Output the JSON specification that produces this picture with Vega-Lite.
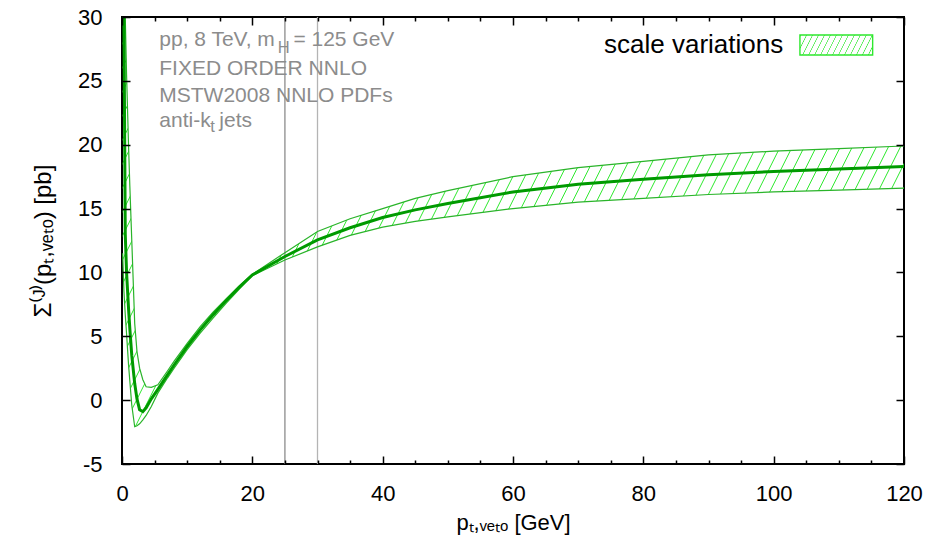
{
"$schema": "https://vega.github.io/schema/vega-lite/v6.json",
"width": 782,
"height": 447,
"autosize": {"type": "none"},
"padding": {"left": 122, "top": 17, "right": 27, "bottom": 82},
"background": "white",
"config": {
 "view": {"stroke": "black", "strokeWidth": 2},
 "font": "Liberation Sans",
 "axis": {"grid": false, "domain": false, "labelFlush": false, "labelFont": "Liberation Sans", "titleFont": "Liberation Sans", "labelColor": "black", "titleColor": "black", "tickColor": "black", "tickWidth": 1.5, "titleFontWeight": "normal"}
},
"resolve": {"axis": {"x": "independent", "y": "independent"}},
"datasets": {
 "band": [
  {"x": 0.1, "lo": 11.5, "hi": 30, "c": 30},
  {"x": 0.3, "lo": 8.5, "hi": 30, "c": 30},
  {"x": 0.5, "lo": 6.7, "hi": 30, "c": 13},
  {"x": 0.7, "lo": 5.2, "hi": 25.5, "c": 10},
  {"x": 1.0, "lo": 2.8, "hi": 20, "c": 7.2},
  {"x": 1.2, "lo": 1.5, "hi": 16.8, "c": 5.6},
  {"x": 1.5, "lo": -0.4, "hi": 12.5, "c": 3.5},
  {"x": 1.95, "lo": -2.08, "hi": 6.0, "c": 1.3},
  {"x": 2.3, "lo": -2.0, "hi": 3.8, "c": 0.1},
  {"x": 2.7, "lo": -1.85, "hi": 2.5, "c": -0.75},
  {"x": 3.2, "lo": -1.55, "hi": 1.6, "c": -0.9},
  {"x": 3.7, "lo": -1.2, "hi": 1.05, "c": -0.6},
  {"x": 4.5, "lo": -0.5, "hi": 1.0, "c": 0.1},
  {"x": 5.5, "lo": 0.55, "hi": 1.2, "c": 0.85},
  {"x": 7, "lo": 1.75, "hi": 2.3, "c": 2.0},
  {"x": 8, "lo": 2.5, "hi": 3.05, "c": 2.75},
  {"x": 10, "lo": 3.95, "hi": 4.45, "c": 4.2},
  {"x": 12, "lo": 5.25, "hi": 5.75, "c": 5.5},
  {"x": 14, "lo": 6.45, "hi": 6.9, "c": 6.7},
  {"x": 16, "lo": 7.6, "hi": 7.95, "c": 7.8},
  {"x": 18, "lo": 8.7, "hi": 8.95, "c": 8.85},
  {"x": 20, "lo": 9.75, "hi": 9.85, "c": 9.8},
  {"x": 25, "lo": 10.97, "hi": 11.55, "c": 11.25},
  {"x": 30, "lo": 12.0, "hi": 13.2, "c": 12.55},
  {"x": 35, "lo": 12.9, "hi": 14.2, "c": 13.5},
  {"x": 40, "lo": 13.55, "hi": 15.0, "c": 14.3},
  {"x": 45, "lo": 14.0, "hi": 15.8, "c": 14.9},
  {"x": 50, "lo": 14.35, "hi": 16.4, "c": 15.4},
  {"x": 60, "lo": 15.0, "hi": 17.5, "c": 16.3},
  {"x": 70, "lo": 15.5, "hi": 18.2, "c": 16.9},
  {"x": 80, "lo": 15.8, "hi": 18.7, "c": 17.3},
  {"x": 90, "lo": 16.1, "hi": 19.2, "c": 17.65},
  {"x": 100, "lo": 16.3, "hi": 19.5, "c": 17.9},
  {"x": 110, "lo": 16.45, "hi": 19.7, "c": 18.1},
  {"x": 120, "lo": 16.6, "hi": 19.9, "c": 18.3}
 ],
 "vlines": [{"x": 25, "k": "a"}, {"x": 30, "k": "b"}],
 "notes": [
  {"x": 5.72, "y": 27.73, "t": "pp, 8 TeV, m"},
  {"x": 26.3, "y": 27.73, "t": "= 125 GeV"},
  {"x": 5.72, "y": 25.46, "t": "FIXED ORDER NNLO"},
  {"x": 5.72, "y": 23.37, "t": "MSTW2008 NNLO PDFs"},
  {"x": 5.72, "y": 21.41, "t": "anti-k"},
  {"x": 14.93, "y": 21.41, "t": "jets"}
 ],
 "subs": [
  {"x": 23.9, "y": 27.18, "t": "H"},
  {"x": 13.55, "y": 21.0, "t": "t"}
 ],
 "legtext": [{"x": 101.47, "y": 27.16, "t": "scale variations"}],
 "legbox": [{"x": 104.03, "x2": 115.19, "y": 27.03, "y2": 28.59}]
},
"layer": [
 {
  "data": {"name": "vlines"},
  "mark": {"type": "rule", "strokeWidth": 1.3},
  "encoding": {
   "x": {"field": "x", "type": "quantitative", "scale": {"domain": [0, 120], "nice": false, "zero": false},
    "axis": {"orient": "top", "values": [5, 10, 15, 25, 30, 35, 45, 50, 55, 65, 70, 75, 85, 90, 95, 105, 110, 115], "labels": false, "tickSize": 4, "offset": -4, "title": null, "zindex": 1}},
   "color": {"field": "k", "type": "nominal", "scale": {"range": ["#8c8c8c", "#b4b4b4"]}, "legend": null}
  }
 },
 {
  "data": {"name": "band"},
  "mark": {"type": "area", "clip": true, "fill": {"gradient": "linear", "x1": 0, "y1": 0, "x2": 1.2, "y2": 0.3146, "stops": [
{"offset":0,"color":"rgba(46,232,46,0)"},{"offset":0.001,"color":"#2ee82e"},{"offset":0.002,"color":"rgba(46,232,46,0)"},
{"offset":0.012,"color":"rgba(46,232,46,0)"},{"offset":0.013,"color":"#2ee82e"},{"offset":0.014,"color":"rgba(46,232,46,0)"},
{"offset":0.024,"color":"rgba(46,232,46,0)"},{"offset":0.025,"color":"#2ee82e"},{"offset":0.026,"color":"rgba(46,232,46,0)"},
{"offset":0.036,"color":"rgba(46,232,46,0)"},{"offset":0.037,"color":"#2ee82e"},{"offset":0.038,"color":"rgba(46,232,46,0)"},
{"offset":0.048,"color":"rgba(46,232,46,0)"},{"offset":0.049,"color":"#2ee82e"},{"offset":0.05,"color":"rgba(46,232,46,0)"},
{"offset":0.06,"color":"rgba(46,232,46,0)"},{"offset":0.061,"color":"#2ee82e"},{"offset":0.062,"color":"rgba(46,232,46,0)"},
{"offset":0.072,"color":"rgba(46,232,46,0)"},{"offset":0.073,"color":"#2ee82e"},{"offset":0.074,"color":"rgba(46,232,46,0)"},
{"offset":0.084,"color":"rgba(46,232,46,0)"},{"offset":0.085,"color":"#2ee82e"},{"offset":0.086,"color":"rgba(46,232,46,0)"},
{"offset":0.096,"color":"rgba(46,232,46,0)"},{"offset":0.097,"color":"#2ee82e"},{"offset":0.098,"color":"rgba(46,232,46,0)"},
{"offset":0.108,"color":"rgba(46,232,46,0)"},{"offset":0.109,"color":"#2ee82e"},{"offset":0.11,"color":"rgba(46,232,46,0)"},
{"offset":0.12,"color":"rgba(46,232,46,0)"},{"offset":0.121,"color":"#2ee82e"},{"offset":0.122,"color":"rgba(46,232,46,0)"},
{"offset":0.132,"color":"rgba(46,232,46,0)"},{"offset":0.133,"color":"#2ee82e"},{"offset":0.134,"color":"rgba(46,232,46,0)"},
{"offset":0.144,"color":"rgba(46,232,46,0)"},{"offset":0.145,"color":"#2ee82e"},{"offset":0.146,"color":"rgba(46,232,46,0)"},
{"offset":0.156,"color":"rgba(46,232,46,0)"},{"offset":0.157,"color":"#2ee82e"},{"offset":0.158,"color":"rgba(46,232,46,0)"},
{"offset":0.168,"color":"rgba(46,232,46,0)"},{"offset":0.169,"color":"#2ee82e"},{"offset":0.17,"color":"rgba(46,232,46,0)"},
{"offset":0.18,"color":"rgba(46,232,46,0)"},{"offset":0.181,"color":"#2ee82e"},{"offset":0.182,"color":"rgba(46,232,46,0)"},
{"offset":0.192,"color":"rgba(46,232,46,0)"},{"offset":0.193,"color":"#2ee82e"},{"offset":0.194,"color":"rgba(46,232,46,0)"},
{"offset":0.204,"color":"rgba(46,232,46,0)"},{"offset":0.205,"color":"#2ee82e"},{"offset":0.206,"color":"rgba(46,232,46,0)"},
{"offset":0.216,"color":"rgba(46,232,46,0)"},{"offset":0.217,"color":"#2ee82e"},{"offset":0.218,"color":"rgba(46,232,46,0)"},
{"offset":0.228,"color":"rgba(46,232,46,0)"},{"offset":0.229,"color":"#2ee82e"},{"offset":0.23,"color":"rgba(46,232,46,0)"},
{"offset":0.24,"color":"rgba(46,232,46,0)"},{"offset":0.241,"color":"#2ee82e"},{"offset":0.242,"color":"rgba(46,232,46,0)"},
{"offset":0.252,"color":"rgba(46,232,46,0)"},{"offset":0.253,"color":"#2ee82e"},{"offset":0.254,"color":"rgba(46,232,46,0)"},
{"offset":0.264,"color":"rgba(46,232,46,0)"},{"offset":0.265,"color":"#2ee82e"},{"offset":0.266,"color":"rgba(46,232,46,0)"},
{"offset":0.276,"color":"rgba(46,232,46,0)"},{"offset":0.277,"color":"#2ee82e"},{"offset":0.278,"color":"rgba(46,232,46,0)"},
{"offset":0.288,"color":"rgba(46,232,46,0)"},{"offset":0.289,"color":"#2ee82e"},{"offset":0.29,"color":"rgba(46,232,46,0)"},
{"offset":0.3,"color":"rgba(46,232,46,0)"},{"offset":0.301,"color":"#2ee82e"},{"offset":0.302,"color":"rgba(46,232,46,0)"},
{"offset":0.312,"color":"rgba(46,232,46,0)"},{"offset":0.313,"color":"#2ee82e"},{"offset":0.314,"color":"rgba(46,232,46,0)"},
{"offset":0.324,"color":"rgba(46,232,46,0)"},{"offset":0.325,"color":"#2ee82e"},{"offset":0.326,"color":"rgba(46,232,46,0)"},
{"offset":0.336,"color":"rgba(46,232,46,0)"},{"offset":0.337,"color":"#2ee82e"},{"offset":0.338,"color":"rgba(46,232,46,0)"},
{"offset":0.348,"color":"rgba(46,232,46,0)"},{"offset":0.349,"color":"#2ee82e"},{"offset":0.35,"color":"rgba(46,232,46,0)"},
{"offset":0.36,"color":"rgba(46,232,46,0)"},{"offset":0.361,"color":"#2ee82e"},{"offset":0.362,"color":"rgba(46,232,46,0)"},
{"offset":0.372,"color":"rgba(46,232,46,0)"},{"offset":0.373,"color":"#2ee82e"},{"offset":0.374,"color":"rgba(46,232,46,0)"},
{"offset":0.384,"color":"rgba(46,232,46,0)"},{"offset":0.385,"color":"#2ee82e"},{"offset":0.386,"color":"rgba(46,232,46,0)"},
{"offset":0.396,"color":"rgba(46,232,46,0)"},{"offset":0.397,"color":"#2ee82e"},{"offset":0.398,"color":"rgba(46,232,46,0)"},
{"offset":0.408,"color":"rgba(46,232,46,0)"},{"offset":0.409,"color":"#2ee82e"},{"offset":0.41,"color":"rgba(46,232,46,0)"},
{"offset":0.42,"color":"rgba(46,232,46,0)"},{"offset":0.421,"color":"#2ee82e"},{"offset":0.422,"color":"rgba(46,232,46,0)"},
{"offset":0.432,"color":"rgba(46,232,46,0)"},{"offset":0.433,"color":"#2ee82e"},{"offset":0.434,"color":"rgba(46,232,46,0)"},
{"offset":0.444,"color":"rgba(46,232,46,0)"},{"offset":0.445,"color":"#2ee82e"},{"offset":0.446,"color":"rgba(46,232,46,0)"},
{"offset":0.456,"color":"rgba(46,232,46,0)"},{"offset":0.457,"color":"#2ee82e"},{"offset":0.458,"color":"rgba(46,232,46,0)"},
{"offset":0.468,"color":"rgba(46,232,46,0)"},{"offset":0.469,"color":"#2ee82e"},{"offset":0.47,"color":"rgba(46,232,46,0)"},
{"offset":0.48,"color":"rgba(46,232,46,0)"},{"offset":0.481,"color":"#2ee82e"},{"offset":0.482,"color":"rgba(46,232,46,0)"},
{"offset":0.492,"color":"rgba(46,232,46,0)"},{"offset":0.493,"color":"#2ee82e"},{"offset":0.494,"color":"rgba(46,232,46,0)"},
{"offset":0.504,"color":"rgba(46,232,46,0)"},{"offset":0.505,"color":"#2ee82e"},{"offset":0.506,"color":"rgba(46,232,46,0)"},
{"offset":0.516,"color":"rgba(46,232,46,0)"},{"offset":0.517,"color":"#2ee82e"},{"offset":0.518,"color":"rgba(46,232,46,0)"},
{"offset":0.528,"color":"rgba(46,232,46,0)"},{"offset":0.529,"color":"#2ee82e"},{"offset":0.53,"color":"rgba(46,232,46,0)"},
{"offset":0.54,"color":"rgba(46,232,46,0)"},{"offset":0.541,"color":"#2ee82e"},{"offset":0.542,"color":"rgba(46,232,46,0)"},
{"offset":0.552,"color":"rgba(46,232,46,0)"},{"offset":0.553,"color":"#2ee82e"},{"offset":0.554,"color":"rgba(46,232,46,0)"},
{"offset":0.564,"color":"rgba(46,232,46,0)"},{"offset":0.565,"color":"#2ee82e"},{"offset":0.566,"color":"rgba(46,232,46,0)"},
{"offset":0.576,"color":"rgba(46,232,46,0)"},{"offset":0.577,"color":"#2ee82e"},{"offset":0.578,"color":"rgba(46,232,46,0)"},
{"offset":0.588,"color":"rgba(46,232,46,0)"},{"offset":0.589,"color":"#2ee82e"},{"offset":0.59,"color":"rgba(46,232,46,0)"},
{"offset":0.6,"color":"rgba(46,232,46,0)"},{"offset":0.601,"color":"#2ee82e"},{"offset":0.602,"color":"rgba(46,232,46,0)"},
{"offset":0.612,"color":"rgba(46,232,46,0)"},{"offset":0.613,"color":"#2ee82e"},{"offset":0.614,"color":"rgba(46,232,46,0)"},
{"offset":0.624,"color":"rgba(46,232,46,0)"},{"offset":0.625,"color":"#2ee82e"},{"offset":0.626,"color":"rgba(46,232,46,0)"},
{"offset":0.636,"color":"rgba(46,232,46,0)"},{"offset":0.637,"color":"#2ee82e"},{"offset":0.638,"color":"rgba(46,232,46,0)"},
{"offset":0.648,"color":"rgba(46,232,46,0)"},{"offset":0.649,"color":"#2ee82e"},{"offset":0.65,"color":"rgba(46,232,46,0)"},
{"offset":0.66,"color":"rgba(46,232,46,0)"},{"offset":0.661,"color":"#2ee82e"},{"offset":0.662,"color":"rgba(46,232,46,0)"},
{"offset":0.672,"color":"rgba(46,232,46,0)"},{"offset":0.673,"color":"#2ee82e"},{"offset":0.674,"color":"rgba(46,232,46,0)"},
{"offset":0.684,"color":"rgba(46,232,46,0)"},{"offset":0.685,"color":"#2ee82e"},{"offset":0.686,"color":"rgba(46,232,46,0)"},
{"offset":0.696,"color":"rgba(46,232,46,0)"},{"offset":0.697,"color":"#2ee82e"},{"offset":0.698,"color":"rgba(46,232,46,0)"},
{"offset":0.708,"color":"rgba(46,232,46,0)"},{"offset":0.709,"color":"#2ee82e"},{"offset":0.71,"color":"rgba(46,232,46,0)"},
{"offset":0.72,"color":"rgba(46,232,46,0)"},{"offset":0.721,"color":"#2ee82e"},{"offset":0.722,"color":"rgba(46,232,46,0)"},
{"offset":0.732,"color":"rgba(46,232,46,0)"},{"offset":0.733,"color":"#2ee82e"},{"offset":0.734,"color":"rgba(46,232,46,0)"},
{"offset":0.744,"color":"rgba(46,232,46,0)"},{"offset":0.745,"color":"#2ee82e"},{"offset":0.746,"color":"rgba(46,232,46,0)"},
{"offset":0.756,"color":"rgba(46,232,46,0)"},{"offset":0.757,"color":"#2ee82e"},{"offset":0.758,"color":"rgba(46,232,46,0)"},
{"offset":0.768,"color":"rgba(46,232,46,0)"},{"offset":0.769,"color":"#2ee82e"},{"offset":0.77,"color":"rgba(46,232,46,0)"},
{"offset":0.78,"color":"rgba(46,232,46,0)"},{"offset":0.781,"color":"#2ee82e"},{"offset":0.782,"color":"rgba(46,232,46,0)"},
{"offset":0.792,"color":"rgba(46,232,46,0)"},{"offset":0.793,"color":"#2ee82e"},{"offset":0.794,"color":"rgba(46,232,46,0)"},
{"offset":0.804,"color":"rgba(46,232,46,0)"},{"offset":0.805,"color":"#2ee82e"},{"offset":0.806,"color":"rgba(46,232,46,0)"},
{"offset":0.816,"color":"rgba(46,232,46,0)"},{"offset":0.817,"color":"#2ee82e"},{"offset":0.818,"color":"rgba(46,232,46,0)"},
{"offset":0.828,"color":"rgba(46,232,46,0)"},{"offset":0.829,"color":"#2ee82e"},{"offset":0.83,"color":"rgba(46,232,46,0)"},
{"offset":0.84,"color":"rgba(46,232,46,0)"},{"offset":0.841,"color":"#2ee82e"},{"offset":0.842,"color":"rgba(46,232,46,0)"},
{"offset":0.852,"color":"rgba(46,232,46,0)"},{"offset":0.853,"color":"#2ee82e"},{"offset":0.854,"color":"rgba(46,232,46,0)"},
{"offset":0.864,"color":"rgba(46,232,46,0)"},{"offset":0.865,"color":"#2ee82e"},{"offset":0.866,"color":"rgba(46,232,46,0)"},
{"offset":0.876,"color":"rgba(46,232,46,0)"},{"offset":0.877,"color":"#2ee82e"},{"offset":0.878,"color":"rgba(46,232,46,0)"},
{"offset":0.888,"color":"rgba(46,232,46,0)"},{"offset":0.889,"color":"#2ee82e"},{"offset":0.89,"color":"rgba(46,232,46,0)"},
{"offset":0.9,"color":"rgba(46,232,46,0)"},{"offset":0.901,"color":"#2ee82e"},{"offset":0.902,"color":"rgba(46,232,46,0)"},
{"offset":0.912,"color":"rgba(46,232,46,0)"},{"offset":0.913,"color":"#2ee82e"},{"offset":0.914,"color":"rgba(46,232,46,0)"},
{"offset":0.924,"color":"rgba(46,232,46,0)"},{"offset":0.925,"color":"#2ee82e"},{"offset":0.926,"color":"rgba(46,232,46,0)"},
{"offset":0.936,"color":"rgba(46,232,46,0)"},{"offset":0.937,"color":"#2ee82e"},{"offset":0.938,"color":"rgba(46,232,46,0)"},
{"offset":0.948,"color":"rgba(46,232,46,0)"},{"offset":0.949,"color":"#2ee82e"},{"offset":0.95,"color":"rgba(46,232,46,0)"},
{"offset":0.96,"color":"rgba(46,232,46,0)"},{"offset":0.961,"color":"#2ee82e"},{"offset":0.962,"color":"rgba(46,232,46,0)"},
{"offset":0.972,"color":"rgba(46,232,46,0)"},{"offset":0.973,"color":"#2ee82e"},{"offset":0.974,"color":"rgba(46,232,46,0)"},
{"offset":0.984,"color":"rgba(46,232,46,0)"},{"offset":0.985,"color":"#2ee82e"},{"offset":0.986,"color":"rgba(46,232,46,0)"},
{"offset":0.996,"color":"rgba(46,232,46,0)"},{"offset":0.997,"color":"#2ee82e"},{"offset":0.998,"color":"rgba(46,232,46,0)"}
  ]}},
  "encoding": {
   "x": {"field": "x", "type": "quantitative", "scale": {"domain": [0, 120], "nice": false, "zero": false},
    "axis": {"orient": "bottom", "values": [0, 20, 40, 60, 80, 100, 120], "ticks": false, "labelFontSize": 22, "labelPadding": 19, "title": "pₜ,ᵥₑₜₒ [GeV]", "titleFontSize": 22, "titlePadding": 8}},
   "y": {"field": "lo", "type": "quantitative", "scale": {"domain": [-5, 30], "nice": false, "zero": false},
    "axis": {"orient": "left", "values": [-5, 0, 5, 10, 15, 20, 25, 30], "ticks": false, "labelFontSize": 22, "labelPadding": 20, "labelExpr": "replace(datum.label, '−', '-')", "title": "Σ⁽ᴶ⁾(pₜ,ᵥₑₜₒ) [pb]", "titleFontSize": 24, "titlePadding": 22}},
   "y2": {"field": "hi"}
  }
 },
 {
  "data": {"name": "band"},
  "mark": {"type": "line", "clip": true, "color": "#2ab42a", "strokeWidth": 1.2},
  "encoding": {
   "x": {"field": "x", "type": "quantitative", "scale": {"domain": [0, 120], "nice": false, "zero": false},
    "axis": {"orient": "bottom", "values": [0, 20, 40, 60, 80, 100, 120], "labels": false, "tickSize": 8, "offset": -8, "title": null, "zindex": 1}},
   "y": {"field": "lo", "type": "quantitative", "scale": {"domain": [-5, 30], "nice": false, "zero": false},
    "axis": {"orient": "left", "values": [-5, 0, 5, 10, 15, 20, 25, 30], "labels": false, "tickSize": 8, "offset": -8, "title": null, "zindex": 1}}
  }
 },
 {
  "data": {"name": "band"},
  "mark": {"type": "line", "clip": true, "color": "#2ab42a", "strokeWidth": 1.2},
  "encoding": {
   "x": {"field": "x", "type": "quantitative", "scale": {"domain": [0, 120], "nice": false, "zero": false},
    "axis": {"orient": "top", "values": [0, 20, 40, 60, 80, 100, 120], "labels": false, "tickSize": 8, "offset": -8, "title": null, "zindex": 1}},
   "y": {"field": "hi", "type": "quantitative", "scale": {"domain": [-5, 30], "nice": false, "zero": false},
    "axis": {"orient": "right", "values": [-5, 0, 5, 10, 15, 20, 25, 30], "labels": false, "tickSize": 8, "offset": -8, "title": null, "zindex": 1}}
  }
 },
 {
  "data": {"name": "band"},
  "mark": {"type": "line", "clip": true, "color": "#009a00", "strokeWidth": 3},
  "encoding": {
   "x": {"field": "x", "type": "quantitative", "scale": {"domain": [0, 120], "nice": false, "zero": false},
    "axis": {"orient": "bottom", "values": [5, 10, 15, 25, 30, 35, 45, 50, 55, 65, 70, 75, 85, 90, 95, 105, 110, 115], "labels": false, "tickSize": 4, "offset": -4, "title": null, "zindex": 1}},
   "y": {"field": "c", "type": "quantitative", "scale": {"domain": [-5, 30], "nice": false, "zero": false}, "axis": null}
  }
 },
 {
  "data": {"name": "notes"},
  "mark": {"type": "text", "align": "left", "baseline": "alphabetic", "fontSize": 21, "color": "#8c8c8c", "font": "Liberation Sans"},
  "encoding": {
   "x": {"field": "x", "type": "quantitative", "axis": null},
   "y": {"field": "y", "type": "quantitative", "axis": null},
   "text": {"field": "t"}
  }
 },
 {
  "data": {"name": "subs"},
  "mark": {"type": "text", "align": "left", "baseline": "alphabetic", "fontSize": 16.5, "color": "#8c8c8c", "font": "Liberation Sans"},
  "encoding": {
   "x": {"field": "x", "type": "quantitative", "axis": null},
   "y": {"field": "y", "type": "quantitative", "axis": null},
   "text": {"field": "t"}
  }
 },
 {
  "data": {"name": "legtext"},
  "mark": {"type": "text", "align": "right", "baseline": "alphabetic", "fontSize": 26, "color": "black", "font": "Liberation Sans"},
  "encoding": {
   "x": {"field": "x", "type": "quantitative", "axis": null},
   "y": {"field": "y", "type": "quantitative", "axis": null},
   "text": {"field": "t"}
  }
 },
 {
  "data": {"name": "legbox"},
  "mark": {"type": "rect", "stroke": "#2ee82e", "strokeWidth": 1.4, "fill": {"gradient": "linear", "x1": 0, "y1": 0, "x2": 1.12, "y2": 0.154, "stops": [
{"offset":0,"color":"rgba(46,232,46,0)"},{"offset":0.009,"color":"#2ee82e"},{"offset":0.018,"color":"rgba(46,232,46,0)"},
{"offset":0.072,"color":"rgba(46,232,46,0)"},{"offset":0.081,"color":"#2ee82e"},{"offset":0.09,"color":"rgba(46,232,46,0)"},
{"offset":0.144,"color":"rgba(46,232,46,0)"},{"offset":0.153,"color":"#2ee82e"},{"offset":0.162,"color":"rgba(46,232,46,0)"},
{"offset":0.216,"color":"rgba(46,232,46,0)"},{"offset":0.225,"color":"#2ee82e"},{"offset":0.234,"color":"rgba(46,232,46,0)"},
{"offset":0.288,"color":"rgba(46,232,46,0)"},{"offset":0.297,"color":"#2ee82e"},{"offset":0.306,"color":"rgba(46,232,46,0)"},
{"offset":0.36,"color":"rgba(46,232,46,0)"},{"offset":0.369,"color":"#2ee82e"},{"offset":0.378,"color":"rgba(46,232,46,0)"},
{"offset":0.432,"color":"rgba(46,232,46,0)"},{"offset":0.441,"color":"#2ee82e"},{"offset":0.45,"color":"rgba(46,232,46,0)"},
{"offset":0.504,"color":"rgba(46,232,46,0)"},{"offset":0.513,"color":"#2ee82e"},{"offset":0.522,"color":"rgba(46,232,46,0)"},
{"offset":0.576,"color":"rgba(46,232,46,0)"},{"offset":0.585,"color":"#2ee82e"},{"offset":0.594,"color":"rgba(46,232,46,0)"},
{"offset":0.648,"color":"rgba(46,232,46,0)"},{"offset":0.657,"color":"#2ee82e"},{"offset":0.666,"color":"rgba(46,232,46,0)"},
{"offset":0.72,"color":"rgba(46,232,46,0)"},{"offset":0.729,"color":"#2ee82e"},{"offset":0.738,"color":"rgba(46,232,46,0)"},
{"offset":0.792,"color":"rgba(46,232,46,0)"},{"offset":0.801,"color":"#2ee82e"},{"offset":0.81,"color":"rgba(46,232,46,0)"},
{"offset":0.864,"color":"rgba(46,232,46,0)"},{"offset":0.873,"color":"#2ee82e"},{"offset":0.882,"color":"rgba(46,232,46,0)"},
{"offset":0.936,"color":"rgba(46,232,46,0)"},{"offset":0.945,"color":"#2ee82e"},{"offset":0.954,"color":"rgba(46,232,46,0)"}
  ]}},
  "encoding": {
   "x": {"field": "x", "type": "quantitative", "axis": null},
   "x2": {"field": "x2"},
   "y": {"field": "y", "type": "quantitative", "axis": null},
   "y2": {"field": "y2"}
  }
 }
]
}
